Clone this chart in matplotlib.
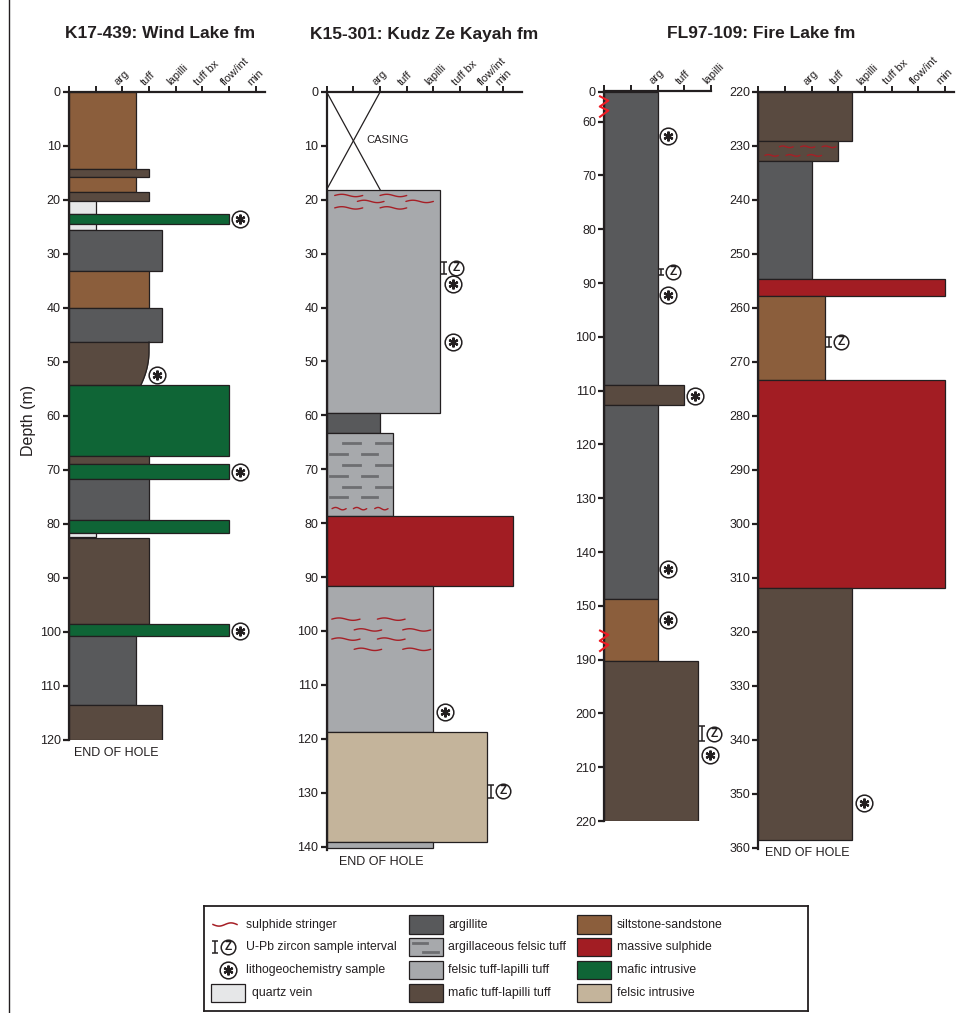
import numpy as np
import matplotlib.pyplot as plt
from matplotlib.patches import Rectangle
from matplotlib.lines import Line2D
from matplotlib.transforms import ScaledTranslation

plt.rcParams['font.family'] = ['Liberation Sans Narrow', 'Liberation Sans', 'DejaVu Sans']

W, H = 969, 1013
UNIT = 26.67    # px per grain-size step
INK = '#231f20'
EDGE = '#231f20'
STRINGER = '#a61f26'
BREAK = '#ee1c25'

COLORS = {
    'argillite': '#58595b',
    'arg_felsic': '#a7a9ac',
    'felsic_tuff': '#a7a9ac',
    'mafic_tuff': '#594a40',
    'siltstone': '#8b5e3c',
    'sulphide': '#a21d23',
    'mafic_int': '#0f6536',
    'felsic_int': '#c4b49b',
    'quartz': '#e6e7e8',
}

GRAIN_LABELS = ['', '', 'arg', 'tuff', 'lapilli', 'tuff bx', 'flow/int', 'min']

# --- K17-439: Wind Lake fm ---
k17_top = [0, 14.3, 15.8, 18.5, 20.2, 22.6, 24.5, 25.5, 33.2, 40.0, 46.3,
           54.2, 67.5, 68.9, 71.6, 79.3, 81.7, 82.5, 98.5, 100.7, 113.5]
k17_base = [14.3, 15.8, 18.5, 20.2, 22.6, 24.5, 25.5, 33.2, 40.0, 46.3, 54.2,
            67.5, 68.9, 71.6, 79.3, 81.7, 82.5, 98.5, 100.7, 113.5, 120]
k17_grain = [2.5, 3, 2.5, 3, 1, 6, 1, 3.5, 3, 3.5, 3,
             6, 3, 6, 3, 6, 1, 3, 6, 2.5, 3.5]
k17_lith = ['siltstone', 'mafic_tuff', 'siltstone', 'mafic_tuff', 'quartz',
            'mafic_int', 'quartz', 'argillite', 'siltstone', 'argillite',
            'mafic_tuff', 'mafic_int', 'mafic_tuff', 'mafic_int', 'argillite',
            'mafic_int', 'quartz', 'mafic_tuff', 'mafic_int', 'argillite',
            'mafic_tuff']
k17_taper = {10: 2.7}          # layer index -> grain at its base (rounded contact)
k17_litho_x = [6.4, 3.3, 6.4, 6.4]
k17_litho_d = [23.5, 52.4, 70.4, 99.8]

# --- K15-301: Kudz Ze Kayah fm ---
k15_casing = (0, 18.1, 2)
k15_top = [18.1, 59.5, 63.3, 78.7, 91.7, 118.8, 139.2]
k15_base = [59.5, 63.3, 78.7, 91.7, 118.8, 139.2, 140.3]
k15_grain = [4.25, 2, 2.5, 7, 4, 6, 4]
k15_lith = ['felsic_tuff', 'argillite', 'arg_felsic', 'sulphide',
            'felsic_tuff', 'felsic_int', 'felsic_tuff']
k15_litho_x = [4.72, 4.72, 4.45]
k15_litho_d = [35.7, 46.3, 115.0]
k15_zircon = [(4.4, 31.5, 33.7), (6.16, 128.5, 131.0)]
k15_stringers = [
    (19.2, 0.3, 1.35), (19.2, 2.0, 3.0),
    (20.3, 1.15, 2.15), (20.3, 2.97, 4.0),
    (21.5, 0.3, 1.35), (21.5, 2.0, 3.0),
    (77.3, 0.2, 0.73), (77.3, 1.0, 1.5), (77.3, 1.8, 2.3),
    (97.8, 0.19, 1.25), (97.8, 1.9, 2.94),
    (99.8, 1.03, 2.06), (99.8, 2.85, 3.9),
    (101.5, 0.19, 1.25), (101.5, 1.9, 2.94),
    (103.4, 1.03, 2.06), (103.4, 2.85, 3.9),
]
k15_dash_d = [65.1, 67.1, 69.2, 71.3, 73.3, 75.2]
k15_dash_a = [(0.62, 1.25), (1.84, 2.4)]
k15_dash_b = [(0.12, 0.75), (1.33, 1.9)]

# --- FL97-109: Fire Lake fm (upper log, with breaks) ---
fl_top = [0, 108.9, 112.7, 148.7, 190.3]
fl_base = [108.9, 112.7, 148.7, 190.3, 220]
fl_grain = [2, 3, 2, 2, 3.5]
fl_lith = ['argillite', 'mafic_tuff', 'argillite', 'siltstone', 'mafic_tuff']
fl_scale_depth = [0, 60, 150, 190, 220]
fl_scale_pos = [0, 5.6, 95.6, 105.6, 135.6]
fl_ticks = [0, 60, 70, 80, 90, 100, 110, 120, 130, 140, 150, 190, 200, 210, 220]
fl_breaks = [30, 176]
fl_litho_x = [2.39, 2.39, 3.4, 2.39, 2.39, 3.97]
fl_litho_d = [62.7, 92.2, 111.0, 143.2, 160.4, 207.7]
fl_zircon = [(2.13, 87.4, 88.6), (3.66, 202.4, 205.2)]

# --- FL97-109 continued ---
fl2_top = [220, 229.2, 232.9, 254.7, 257.9, 273.4, 311.9]
fl2_base = [229.2, 232.9, 254.7, 257.9, 273.4, 311.9, 358.6]
fl2_grain = [3.5, 3, 2, 7, 2.5, 7, 3.5]
fl2_lith = ['mafic_tuff', 'mafic_tuff', 'argillite', 'sulphide',
            'siltstone', 'sulphide', 'mafic_tuff']
fl2_litho_x = [3.96]
fl2_litho_d = [351.7]
fl2_zircon = [(2.65, 265.4, 267.2)]
fl2_stringers = [
    (230.2, 0.79, 1.31), (230.2, 1.59, 2.12), (230.2, 2.39, 2.91),
    (231.8, 0.25, 0.75), (231.8, 1.04, 1.56), (231.8, 1.84, 2.37),
]

fig = plt.figure(figsize=(W / 100, H / 100), dpi=100)


def make_axes(x0, top, xmax, ymin, ymax, pxm, ticks, labels):
    h = (ymax - ymin) * pxm
    w = xmax * UNIT
    ax = fig.add_axes([x0 / W, 1 - (top + h) / H, w / W, h / H])
    ax.set_xlim(0, xmax)
    ax.set_ylim(ymax, ymin)
    ax.patch.set_visible(False)
    for s in ('right', 'bottom'):
        ax.spines[s].set_visible(False)
    for s in ('left', 'top'):
        ax.spines[s].set_linewidth(1.6)
        ax.spines[s].set_color(INK)
    ax.xaxis.tick_top()
    ax.set_xticks(ticks)
    ax.set_xticklabels([])
    ax.tick_params(axis='x', direction='out', length=4, width=1.4, colors=INK)
    ax.tick_params(axis='y', direction='out', length=4.5, width=1.6, pad=1.5,
                   labelsize=9, colors=INK)
    shift = ScaledTranslation(-3 / 100, 5 / 100, fig.dpi_scale_trans)
    for x, lab in zip(ticks, labels):
        if lab:
            ax.text(x, 1, lab, transform=ax.get_xaxis_transform() + shift,
                    rotation=45, rotation_mode='anchor', ha='left', va='bottom',
                    fontsize=8, color=INK)
    return ax


def draw_log(ax, tops, bases, grains, liths, pos=lambda d: d, taper=None):
    taper = taper or {}
    for i, (t, b, g, lith) in enumerate(zip(tops, bases, grains, liths)):
        y0, y1 = pos(t), pos(b)
        if i in taper:
            yy = np.linspace(y0, y1, 40)
            k = np.clip((yy - (y0 + 0.22 * (y1 - y0))) / (0.78 * (y1 - y0)), 0, 1)
            xx = g - (g - taper[i]) * k ** 2
            ax.fill_betweenx(yy, 0, xx, color=COLORS[lith], lw=0, zorder=2)
            ax.plot(xx, yy, color=EDGE, lw=0.9, zorder=2.1)
            ax.plot([0, g], [y0, y0], color=EDGE, lw=0.9, zorder=2.1)
            ax.plot([0, taper[i]], [y1, y1], color=EDGE, lw=0.9, zorder=2.1)
        else:
            ax.barh(y0, g, height=y1 - y0, left=0, align='edge',
                    color=COLORS[lith], edgecolor=EDGE, linewidth=0.9, zorder=2)


def stringer(ax, d, x0, x1, amp=0.22, lw=1.0):
    xs = np.linspace(x0, x1, 40)
    ys = d - amp * np.sin(2 * np.pi * (xs - x0) / (x1 - x0))
    ax.plot(xs, ys, color=STRINGER, lw=lw, zorder=3, solid_capstyle='round')


def litho(ax, x, d):
    ax.plot(x, d, 'o', ms=12, mfc='white', mec=INK, mew=1.1, zorder=4, clip_on=False)
    ax.plot(x, d, marker=(6, 2, 0), ms=7, mec=INK, mew=1.6, zorder=5, clip_on=False)


def zircon(ax, x, t, b, dx=0.45):
    mid = (t + b) / 2
    ax.errorbar(x, mid, yerr=(b - t) / 2, fmt='none', ecolor=INK, elinewidth=1.1,
                capsize=2.5, capthick=1.1, zorder=4, clip_on=False)
    ax.plot(x + dx, mid, 'o', ms=10.5, mfc='white', mec=INK, mew=1.1, zorder=4, clip_on=False)
    ax.text(x + dx, mid, 'Z', ha='center', va='center', fontsize=8.5,
            fontweight='bold', color=INK, zorder=5, clip_on=False)


# Panel 1: K17-439
ax1 = make_axes(69, 92, 7.35, 0, 120, 5.4, range(8), GRAIN_LABELS)
ax1.set_yticks(np.arange(0, 121, 10))
draw_log(ax1, k17_top, k17_base, k17_grain, k17_lith, taper=k17_taper)
for x, d in zip(k17_litho_x, k17_litho_d):
    litho(ax1, x, d)
ax1.text(0.19, 122.5, 'END OF HOLE', ha='left', va='center', fontsize=9,
         color=INK, clip_on=False)

# Panel 2: K15-301
k15_ticks = [0, 1, 2, 3, 4, 5, 6, 6.625]
ax2 = make_axes(326.7, 92, 7.31, 0, 140.6, 5.39, k15_ticks, GRAIN_LABELS)
ax2.set_yticks(np.arange(0, 141, 10))
c_top, c_base, c_grain = k15_casing
ax2.plot([0, c_grain], [c_top, c_base], color=INK, lw=0.9)
ax2.plot([c_grain, 0], [c_top, c_base], color=INK, lw=0.9)
ax2.text(1.47, 8.9, 'CASING', ha='left', va='center', fontsize=8, color=INK)
draw_log(ax2, k15_top, k15_base, k15_grain, k15_lith)
for d in k15_dash_d:
    row = k15_dash_a if k15_dash_d.index(d) % 2 == 0 else k15_dash_b
    for x0, x1 in row:
        ax2.plot([x0, x1], [d, d], color='#6d6e71', lw=2.0, zorder=3)
for d, x0, x1 in k15_stringers:
    stringer(ax2, d, x0, x1)
for x, d in zip(k15_litho_x, k15_litho_d):
    litho(ax2, x, d)
for x, t, b in k15_zircon:
    zircon(ax2, x, t, b)
ax2.text(0.47, 142.8, 'END OF HOLE', ha='left', va='center', fontsize=9,
         color=INK, clip_on=False)


# Panel 3: FL97-109 upper, with compressed intervals
def fl_pos(d):
    return np.interp(d, fl_scale_depth, fl_scale_pos)


ax3 = make_axes(604.3, 91.5, 4.0, 0, fl_scale_pos[-1], 5.38, range(5), GRAIN_LABELS[:5])
ax3.set_yticks(fl_pos(fl_ticks), [str(t) for t in fl_ticks])
draw_log(ax3, fl_top, fl_base, fl_grain, fl_lith, pos=fl_pos)
for d in fl_breaks:
    c = fl_pos(d)
    ax3.plot([-0.16, 0.15, -0.17, 0.15, -0.16], c + np.array([-1.9, -1.1, 0, 0.75, 1.9]),
             color=BREAK, lw=1.5, zorder=6, clip_on=False)
for x, d in zip(fl_litho_x, fl_litho_d):
    litho(ax3, x, fl_pos(d))
for x, t, b in fl_zircon:
    zircon(ax3, x, fl_pos(t), fl_pos(b))

# Panel 4: FL97-109 continued
ax4 = make_axes(758.3, 91.7, 7.34, 220, 360.3, 5.4, range(8), GRAIN_LABELS)
ax4.set_yticks(np.arange(220, 361, 10))
draw_log(ax4, fl2_top, fl2_base, fl2_grain, fl2_lith)
for d, x0, x1 in fl2_stringers:
    stringer(ax4, d, x0, x1, amp=0.15)
for x, d in zip(fl2_litho_x, fl2_litho_d):
    litho(ax4, x, d)
for x, t, b in fl2_zircon:
    zircon(ax4, x, t, b)
ax4.text(0.25, 360.9, 'END OF HOLE', ha='left', va='center', fontsize=9,
         color=INK, clip_on=False)

# Titles and shared labels
title_kw = dict(ha='center', va='center', fontsize=12.5, fontweight='bold', color=INK)
fig.text(160.5 / W, 1 - 34 / H, 'K17-439: Wind Lake fm', **title_kw)
fig.text(424 / W, 1 - 34 / H, 'K15-301: Kudz Ze Kayah fm', **title_kw)
fig.text(761 / W, 1 - 34 / H, 'FL97-109: Fire Lake fm', **title_kw)
fig.text(29 / W, 1 - 420 / H, 'Depth (m)', rotation=90, ha='center', va='center',
         fontsize=11.5, color=INK)
fig.add_artist(Line2D([8.5 / W, 8.5 / W], [0, 1], transform=fig.transFigure,
                      color=INK, lw=1.0))

# Legend panel, laid out in pixel units
lax = fig.add_axes([204 / W, 1 - 1011 / H, 604 / W, 105 / H])
lax.set_xlim(204, 808)
lax.set_ylim(1011, 906)
lax.set_xticks([])
lax.set_yticks([])
for s in lax.spines.values():
    s.set_linewidth(1.3)
    s.set_color(INK)

txt_kw = dict(ha='left', va='center', fontsize=8.8, color=INK)
row_y = [924.5, 947, 970, 993]

xs = np.linspace(213, 237, 40)
lax.plot(xs, row_y[0] + 1.6 * np.sin(2 * np.pi * (xs - 213) / 24), color=STRINGER, lw=1.1)
lax.text(245.5, row_y[0], 'sulphide stringer', **txt_kw)

lax.errorbar(215, row_y[1], yerr=6, fmt='none', ecolor=INK, elinewidth=1.1,
             capsize=2.5, capthick=1.1)
lax.plot(228, row_y[1], 'o', ms=10.5, mfc='white', mec=INK, mew=1.1)
lax.text(228, row_y[1], 'Z', ha='center', va='center', fontsize=8.5,
         fontweight='bold', color=INK)
lax.text(245.5, row_y[1], 'U-Pb zircon sample interval', **txt_kw)

lax.plot(228, row_y[2], 'o', ms=12, mfc='white', mec=INK, mew=1.1)
lax.plot(228, row_y[2], marker=(6, 2, 0), ms=7, mec=INK, mew=1.6)
lax.text(245.5, row_y[2], 'lithogeochemistry sample', **txt_kw)

lax.add_patch(Rectangle((211, 984.3), 34, 17.5, facecolor=COLORS['quartz'],
                        edgecolor=INK, lw=0.9))
lax.text(251.7, row_y[3], 'quartz vein', **txt_kw)

legend_cols = [
    (409, 448.5, [('argillite', 'argillite'),
                  ('arg_felsic', 'argillaceous felsic tuff'),
                  ('felsic_tuff', 'felsic tuff-lapilli tuff'),
                  ('mafic_tuff', 'mafic tuff-lapilli tuff')]),
    (577, 617, [('siltstone', 'siltstone-sandstone'),
                ('sulphide', 'massive sulphide'),
                ('mafic_int', 'mafic intrusive'),
                ('felsic_int', 'felsic intrusive')]),
]
for px, tx, items in legend_cols:
    for y, (key, label) in zip(row_y, items):
        lax.add_patch(Rectangle((px, y - 9.3), 34, 18.6, facecolor=COLORS[key],
                                edgecolor=INK, lw=0.9))
        if key == 'arg_felsic':
            lax.plot([px + 4, px + 18], [y - 3.7, y - 3.7], color='#6d6e71', lw=2.0)
            lax.plot([px + 14, px + 29], [y + 4.7, y + 4.7], color='#6d6e71', lw=2.0)
        lax.text(tx, y, label, **txt_kw)

fig.savefig('out.png', dpi=100)
